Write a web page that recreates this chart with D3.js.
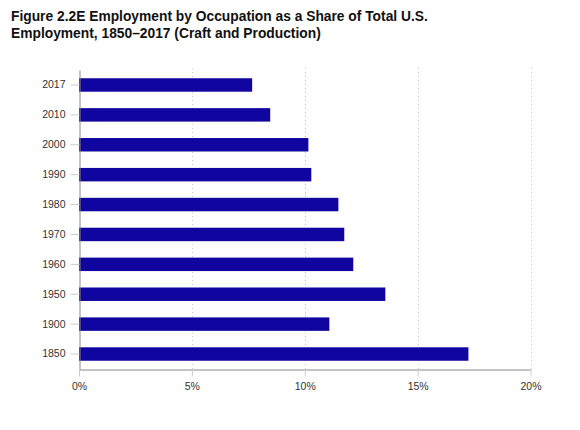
<!DOCTYPE html>
<html>
<head>
<meta charset="utf-8">
<script src="https://cdn.jsdelivr.net/npm/d3@7"></script>
<style>
  body { margin: 0; background: #fff; }
  svg text { font-family: "Liberation Sans", Arial, sans-serif; }
</style>
</head>
<body>
<svg id="chart"></svg>
<script>
// Data (share of total employment, %)
const years = ["2017", "2010", "2000", "1990", "1980", "1970", "1960", "1950", "1900", "1850"];
const shares = [7.67, 8.47, 10.16, 10.29, 11.49, 11.75, 12.15, 13.57, 11.09, 17.25];
const xTicks = [0, 5, 10, 15, 20];
const titleLines = [
  "Figure 2.2E Employment by Occupation as a Share of Total U.S.",
  "Employment, 1850\u20132017 (Craft and Production)"
];

const width = 580, height = 430;
const margin = { top: 70, right: 50, bottom: 61, left: 79 };

const svg = d3.select("#chart")
  .attr("width", width)
  .attr("height", height);

// title
svg.append("text")
  .attr("x", 11)
  .attr("y", 21)
  .attr("font-size", 13.8)
  .attr("font-weight", "bold")
  .attr("fill", "#111")
  .selectAll("tspan")
  .data(titleLines)
  .join("tspan")
  .attr("x", 11)
  .attr("dy", (d, i) => i === 0 ? 0 : 17)
  .text(d => d);

const x = d3.scaleLinear()
  .domain([0, 20])
  .range([margin.left, width - margin.right + 0.5]);

const y = d3.scaleBand()
  .domain(years)
  .range([margin.top, height - margin.bottom])
  .paddingInner(0.55)
  .paddingOuter(0.276);

// dotted gridlines
svg.append("g")
  .selectAll("line")
  .data(xTicks.filter(d => d > 0))
  .join("line")
  .attr("x1", d => Math.round(x(d)) + 0.5)
  .attr("x2", d => Math.round(x(d)) + 0.5)
  .attr("y1", margin.top - 2)
  .attr("y2", height - margin.bottom)
  .attr("stroke", "#c8c8c8")
  .attr("stroke-dasharray", "1,3");

// bars
svg.append("g")
  .selectAll("rect")
  .data(years)
  .join("rect")
  .attr("x", x(0))
  .attr("y", d => y(d))
  .attr("width", (d, i) => x(shares[i]) - x(0))
  .attr("height", y.bandwidth())
  .attr("fill", "#10069f");

// y axis
const yAxis = svg.append("g")
  .attr("transform", `translate(${margin.left + 0.5},0)`)
  .call(d3.axisLeft(y).tickSize(9).tickPadding(5).tickSizeOuter(0));
yAxis.select(".domain").attr("stroke", "#888");
yAxis.selectAll(".tick line").attr("stroke", "#ccc");
yAxis.selectAll(".tick text")
  .attr("font-size", 10.5)
  .attr("fill", "#333")
  .style("font-family", "'Liberation Sans', Arial, sans-serif");

// x axis
const xAxis = svg.append("g")
  .attr("transform", `translate(0,${height - margin.bottom + 0.5})`)
  .call(d3.axisBottom(x).tickValues(xTicks).tickFormat(d => d + "%").tickSize(7).tickPadding(6).tickSizeOuter(0));
xAxis.select(".domain").attr("stroke", "#888");
xAxis.selectAll(".tick line").attr("stroke", "#ccc");
xAxis.selectAll(".tick text")
  .attr("font-size", 10.5)
  .attr("fill", "#333")
  .style("font-family", "'Liberation Sans', Arial, sans-serif");
</script>
</body>
</html>
